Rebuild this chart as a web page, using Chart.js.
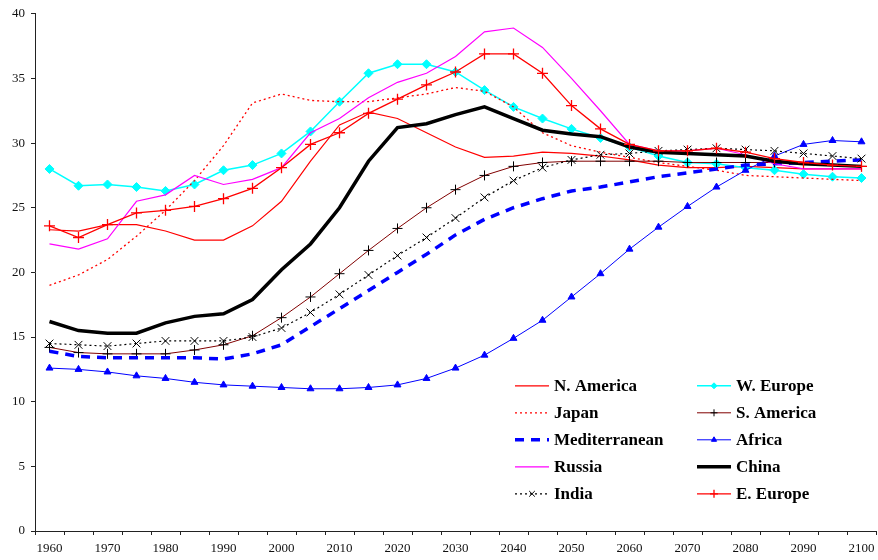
<!DOCTYPE html>
<html>
<head>
<meta charset="utf-8">
<script src="https://cdn.jsdelivr.net/npm/chart.js@4.4.1/dist/chart.umd.min.js"></script>
<style>
  html, body { margin: 0; padding: 0; background: #ffffff; }
  #wrap { width: 878px; height: 560px; }
</style>
</head>
<body>
<div id="wrap"><canvas id="chart" width="878" height="560"></canvas></div>
<script>
// Years on the horizontal axis (every five years)
const years = [1960, 1965, 1970, 1975, 1980, 1985, 1990, 1995, 2000, 2005,
               2010, 2015, 2020, 2025, 2030, 2035, 2040, 2045, 2050, 2055,
               2060, 2065, 2070, 2075, 2080, 2085, 2090, 2095, 2100];

// Years that carry a printed tick label
const labelledYears = [1960, 1970, 1980, 1990, 2000, 2010, 2020, 2030,
                       2040, 2050, 2060, 2070, 2080, 2090, 2100];

// Value-axis range and step
const yTicks = { min: 0, max: 40, step: 5 };

// Series values by region
const nAmerica = [23.3, 23.2, 23.7, 23.7, 23.2, 22.5, 22.5, 23.6, 25.5, 28.6,
                  31.4, 32.4, 31.9, 30.8, 29.7, 28.9, 29.0, 29.3, 29.2, 29.0,
                  28.7, 28.3, 28.1, 28.1, 28.2, 28.1, 28.0, 28.0, 28.0];
const wEurope  = [28.0, 26.7, 26.8, 26.6, 26.3, 26.8, 27.9, 28.3, 29.2, 30.9,
                  33.2, 35.4, 36.1, 36.1, 35.5, 34.1, 32.8, 31.9, 31.1, 30.4,
                  29.7, 29.0, 28.5, 28.4, 28.1, 27.9, 27.6, 27.4, 27.3];
const japan    = [19.0, 19.8, 21.0, 22.8, 24.8, 27.1, 29.8, 33.1, 33.8, 33.3,
                  33.2, 33.2, 33.5, 33.8, 34.3, 34.0, 32.8, 30.8, 29.8, 29.3,
                  28.9, 28.5, 28.2, 27.9, 27.5, 27.4, 27.3, 27.2, 27.1];
const sAmerica = [14.2, 13.8, 13.7, 13.7, 13.7, 14.0, 14.4, 15.1, 16.5, 18.1,
                  19.9, 21.7, 23.4, 25.0, 26.4, 27.5, 28.2, 28.5, 28.6, 28.6,
                  28.6, 28.6, 28.5, 28.5, 28.5, 28.5, 28.4, 28.3, 28.2];
const mediterranean = [13.9, 13.5, 13.4, 13.4, 13.4, 13.4, 13.3, 13.7, 14.4, 15.8,
                  17.2, 18.6, 20.0, 21.4, 22.9, 24.1, 25.0, 25.7, 26.3, 26.6,
                  27.0, 27.4, 27.7, 28.0, 28.3, 28.4, 28.5, 28.6, 28.7];
const africa   = [12.6, 12.5, 12.3, 12.0, 11.8, 11.5, 11.3, 11.2, 11.1, 11.0,
                  11.0, 11.1, 11.3, 11.8, 12.6, 13.6, 14.9, 16.3, 18.1, 19.9,
                  21.8, 23.5, 25.1, 26.6, 27.9, 29.0, 29.9, 30.2, 30.1];
const russia   = [22.2, 21.8, 22.6, 25.5, 26.0, 27.5, 26.8, 27.2, 28.1, 30.8,
                  31.9, 33.5, 34.7, 35.4, 36.7, 38.6, 38.9, 37.4, 35.0, 32.5,
                  29.9, 29.4, 29.4, 29.6, 29.1, 28.4, 28.0, 28.0, 28.0];
const china    = [16.2, 15.5, 15.3, 15.3, 16.1, 16.6, 16.8, 17.9, 20.2, 22.2,
                  25.0, 28.6, 31.2, 31.5, 32.2, 32.8, 31.9, 31.0, 30.7, 30.5,
                  29.7, 29.3, 29.2, 29.1, 29.0, 28.6, 28.4, 28.3, 28.2];
const india    = [14.5, 14.4, 14.3, 14.5, 14.7, 14.7, 14.7, 15.0, 15.7, 16.9,
                  18.3, 19.8, 21.3, 22.7, 24.2, 25.8, 27.1, 28.1, 28.7, 29.1,
                  29.2, 29.4, 29.5, 29.6, 29.5, 29.4, 29.2, 29.0, 28.8];
const eEurope  = [23.6, 22.7, 23.7, 24.6, 24.8, 25.1, 25.7, 26.5, 28.1, 29.9,
                  30.8, 32.3, 33.4, 34.5, 35.5, 36.9, 36.9, 35.4, 32.9, 31.1,
                  29.9, 29.4, 29.4, 29.6, 29.3, 28.8, 28.5, 28.3, 28.2];

const SERIF = '"Liberation Serif", "Times New Roman", "DejaVu Serif", serif';
const RIGHT_GAP = 2; // blank strip kept to the right of the plot

function series(label, data, style) {
  return Object.assign({
    label: label,
    data: data,
    fill: false,
    tension: 0,
    borderWidth: 1,
    borderDash: [],
    pointRadius: 0,
    pointHoverRadius: 0,
    pointStyle: 'circle',
    pointBorderWidth: 1
  }, style);
}

const datasets = [
  series('N. America', nAmerica, { borderColor: '#ff0000', borderWidth: 1.2 }),
  series('W. Europe', wEurope, {
    borderColor: '#00ffff', borderWidth: 1.5,
    pointStyle: 'rectRot', pointRadius: 4.5,
    pointBackgroundColor: '#00ffff', pointBorderColor: '#00ffff'
  }),
  series('Japan', japan, { borderColor: '#ff0000', borderWidth: 1.3, borderDash: [2, 3] }),
  series('S. America', sAmerica, {
    borderColor: '#800000', borderWidth: 1,
    pointStyle: 'cross', pointRadius: 5,
    pointBorderColor: '#000000', pointBorderWidth: 1
  }),
  series('Mediterranean', mediterranean, {
    borderColor: '#0000ff', borderWidth: 3.5, borderDash: [9, 7]
  }),
  series('Africa', africa, {
    borderColor: '#0000ff', borderWidth: 1,
    pointStyle: 'triangle', pointRadius: 4,
    pointBackgroundColor: '#0000ff', pointBorderColor: '#0000ff'
  }),
  series('Russia', russia, { borderColor: '#ff00ff', borderWidth: 1.2 }),
  series('China', china, { borderColor: '#000000', borderWidth: 3.5 }),
  series('India', india, {
    borderColor: '#000000', borderWidth: 1.2, borderDash: [2, 3],
    pointStyle: 'crossRot', pointRadius: 5.5,
    pointBorderColor: '#000000', pointBorderWidth: 1
  }),
  series('E. Europe', eEurope, {
    borderColor: '#ff0000', borderWidth: 1.3,
    pointStyle: 'cross', pointRadius: 5.5,
    pointBorderColor: '#ff0000', pointBorderWidth: 1.3
  })
];

// later series are painted over earlier ones
datasets.forEach((d, i) => { d.order = datasets.length - i; });

// Let the category axis run right up to the edge strip
const stretchPlugin = {
  id: 'stretchX',
  afterLayout(chart) {
    const target = chart.width - RIGHT_GAP;
    const ca = chart.chartArea;
    ca.right = target;
    ca.width = ca.right - ca.left;
    const xs = chart.scales.x;
    xs.right = target;
    xs.width = xs.right - xs.left;
    xs.configure();
  }
};

// Two-column key placed inside the plot, lower right
const keyPlugin = {
  id: 'twoColumnKey',
  afterDraw(chart) {
    const ctx = chart.ctx;
    const ca = chart.chartArea;
    const colX = [ca.left + 480, ca.left + 662];
    const firstRow = ca.top + 372;
    const rowGap = 27;
    const lineLen = 34;
    chart.data.datasets.forEach((ds, i) => {
      const x = colX[i % 2];
      const y = firstRow + Math.floor(i / 2) * rowGap;
      ctx.save();
      ctx.strokeStyle = ds.borderColor;
      ctx.lineWidth = ds.borderWidth;
      ctx.setLineDash(ds.borderDash || []);
      ctx.beginPath();
      ctx.moveTo(x, y);
      ctx.lineTo(x + lineLen, y);
      ctx.stroke();
      ctx.setLineDash([]);
      if (ds.pointRadius > 0) {
        ctx.fillStyle = ds.pointBackgroundColor || ds.pointBorderColor;
        ctx.strokeStyle = ds.pointBorderColor;
        ctx.lineWidth = ds.pointBorderWidth;
        Chart.helpers.drawPoint(ctx, {
          pointStyle: ds.pointStyle,
          radius: Math.max(3, ds.pointRadius - 1.5),
          borderWidth: ds.pointBorderWidth,
          rotation: 0
        }, x + lineLen / 2, y);
      }
      ctx.fillStyle = '#000000';
      ctx.font = 'bold 17px ' + SERIF;
      ctx.textBaseline = 'middle';
      ctx.textAlign = 'left';
      ctx.fillText(ds.label, x + lineLen + 5, y + 1);
      ctx.restore();
    });
  }
};

new Chart(document.getElementById('chart'), {
  type: 'line',
  data: { labels: years.map(String), datasets: datasets },
  options: {
    responsive: false,
    animation: false,
    devicePixelRatio: 1,
    layout: { padding: { top: 13, right: RIGHT_GAP, left: 0, bottom: 0 } },
    plugins: {
      legend: { display: false },
      tooltip: { enabled: false }
    },
    scales: {
      x: {
        type: 'category',
        offset: true,
        grid: {
          offset: true,
          drawOnChartArea: false,
          drawTicks: true,
          tickLength: 4,
          color: '#222222',
          lineWidth: 1
        },
        border: { display: true, color: '#222222', width: 1 },
        ticks: {
          autoSkip: false,
          maxRotation: 0,
          minRotation: 0,
          padding: 6,
          color: '#111111',
          font: { family: SERIF, size: 13 },
          callback: function (value) {
            const y = years[value];
            return labelledYears.includes(y) ? String(y) : '';
          }
        },
        afterFit: function (scale) {
          scale.height = 29;
          scale.paddingLeft = 0;
          scale.paddingRight = 0;
        }
      },
      y: {
        min: yTicks.min,
        max: yTicks.max,
        grid: {
          drawOnChartArea: false,
          drawTicks: true,
          tickLength: 4,
          color: '#222222',
          lineWidth: 1
        },
        border: { display: true, color: '#222222', width: 1 },
        ticks: {
          stepSize: yTicks.step,
          padding: 6,
          color: '#111111',
          font: { family: SERIF, size: 13 }
        },
        afterFit: function (scale) { scale.width = 35; }
      }
    }
  },
  plugins: [stretchPlugin, keyPlugin]
});
</script>
</body>
</html>
